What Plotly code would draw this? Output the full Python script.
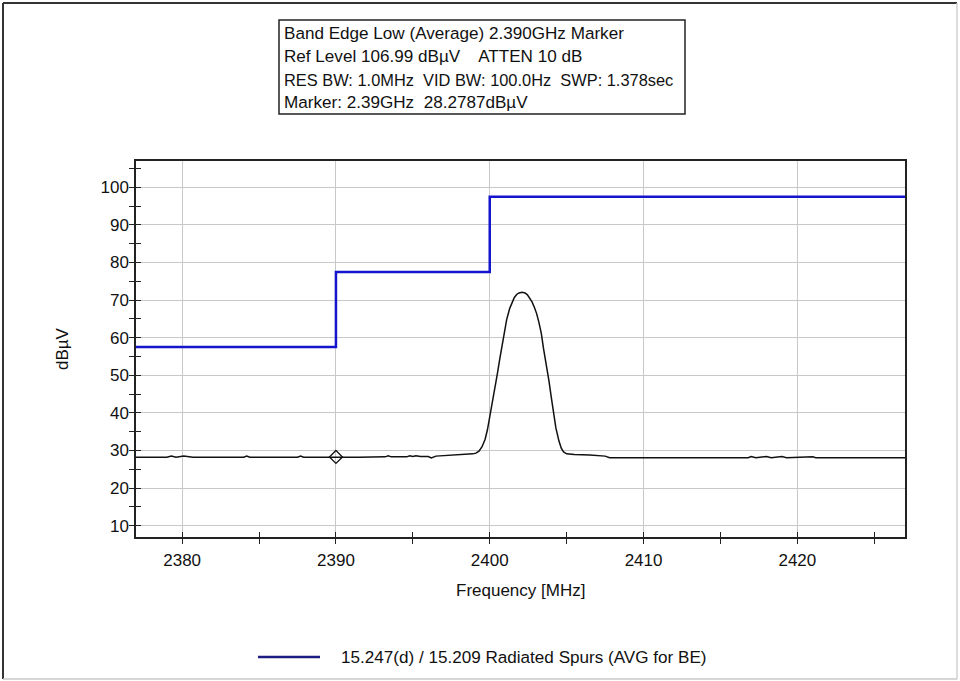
import plotly.graph_objects as go

# ---- data ----
freq_mhz = [2377.0, 2378.0, 2379.0, 2379.3, 2379.6, 2380.1, 2380.4, 2380.7, 2382.0, 2384.0,
            2384.2, 2384.4, 2386.0, 2387.5, 2387.7, 2387.9, 2389.0, 2390.0, 2391.5, 2393.2,
            2393.4, 2393.6, 2394.6, 2394.8, 2395.0, 2395.2, 2395.5, 2396.0, 2396.2, 2396.5,
            2397.0, 2397.6, 2398.0, 2398.5, 2398.9, 2399.1, 2399.3, 2399.5, 2399.7, 2399.85,
            2400.0, 2400.15, 2400.3, 2400.5, 2400.65, 2400.8, 2400.95, 2401.1, 2401.3, 2401.45,
            2401.6, 2401.75, 2401.9, 2402.1, 2402.3, 2402.45, 2402.6, 2402.75, 2402.9, 2403.05,
            2403.2, 2403.35, 2403.5, 2403.7, 2403.85, 2404.0, 2404.15, 2404.3, 2404.5, 2404.65,
            2404.8, 2405.0, 2405.5, 2406.5, 2407.5, 2407.8, 2410.0, 2413.0, 2416.8, 2417.0,
            2417.3, 2418.0, 2418.3, 2419.0, 2419.3, 2421.0, 2421.2, 2424.0, 2427.0]
level_dbuv = [28.2, 28.2, 28.2, 28.5, 28.2, 28.5, 28.4, 28.2, 28.2, 28.2,
              28.5, 28.2, 28.2, 28.2, 28.5, 28.2, 28.2, 28.28, 28.2, 28.3,
              28.6, 28.3, 28.3, 28.6, 28.4, 28.6, 28.4, 28.4, 28.0, 28.5,
              28.6, 28.9, 28.9, 29.0, 29.1, 29.3, 29.8, 31.0, 33.0, 35.5,
              38.8, 42.3, 46.0, 50.5, 54.3, 58.0, 61.6, 64.8, 67.8, 69.5,
              70.7, 71.5, 71.9, 72.1, 71.9, 71.4, 70.6, 69.5, 68.1, 66.4,
              64.0, 61.2, 57.0, 52.5, 48.5, 44.2, 40.0, 36.0, 32.5, 30.6,
              29.6, 29.1, 28.9, 28.8, 28.5, 28.1, 28.1, 28.1, 28.1, 28.4,
              28.1, 28.4, 28.1, 28.4, 28.1, 28.3, 28.1, 28.1, 28.1]

limit_freq = [2377.0, 2390.0, 2400.0, 2427.0]
limit_level = [57.5, 77.5, 97.5, 97.5]

marker_freq = [2390.0]
marker_level = [28.2787]

x_ticks = [2380, 2390, 2400, 2410, 2420]
y_ticks = [10, 20, 30, 40, 50, 60, 70, 80, 90, 100]

info_lines = ["Band Edge Low (Average) 2.390GHz Marker",
              "Ref Level 106.99 dBµV&nbsp;&nbsp;&nbsp; ATTEN 10 dB",
              "RES BW: 1.0MHz&nbsp; VID BW: 100.0Hz&nbsp; SWP: 1.378sec",
              "Marker: 2.39GHz&nbsp; 28.2787dBµV"]
info_sizes = [17.1, 17.1, 16.4, 17.1]
legend_label = "15.247(d) / 15.209 Radiated Spurs (AVG for BE)"

# ---- layout geometry (pixels) ----
W, H = 960, 681
L, R, T, B = 136, 905, 161, 537
FONT = "Liberation Sans, Arial, sans-serif"


def px(xp):
    return (xp - L) / (R - L)


def py(yp):
    return (B - yp) / (B - T)


fig = go.Figure()
fig.add_trace(go.Scatter(x=limit_freq, y=limit_level, mode="lines", line_shape="hv",
                         line=dict(color="#1414cc", width=2.5), showlegend=False,
                         hoverinfo="skip"))
fig.add_trace(go.Scatter(x=freq_mhz, y=level_dbuv, mode="lines",
                         line=dict(color="#111111", width=1.5), showlegend=False))
fig.add_trace(go.Scatter(x=marker_freq, y=marker_level, mode="markers",
                         marker=dict(symbol="diamond-open", size=10, color="#111111",
                                     line=dict(width=1.3)), showlegend=False))
# dummy trace for the inside-tick overlay axes
fig.add_trace(go.Scatter(x=[2377], y=[7], xaxis="x2", yaxis="y2", mode="markers",
                         marker=dict(size=1, opacity=0), showlegend=False, hoverinfo="skip"))

xr = [2377.0, 2427.0]
yr = [6.99, 106.99]
axcommon = dict(linecolor="#222222", linewidth=1.5, tickcolor="#222222", tickwidth=1.2,
                tickfont=dict(family=FONT, size=17, color="#111111"))

fig.update_layout(
    width=W, height=H,
    margin=dict(l=L, r=W - R, t=T, b=H - B, pad=0),
    paper_bgcolor="white", plot_bgcolor="white",
    font=dict(family=FONT, size=17, color="#111111"),
    xaxis=dict(range=xr, tickvals=x_ticks, ticks="outside", ticklen=5,
               showgrid=True, gridcolor="#c8c8c8", gridwidth=1, zeroline=False,
               showline=True, mirror=True, ticklabelstandoff=2,
               minor=dict(dtick=5, tick0=2375, ticks="outside", ticklen=5,
                          tickcolor="#222222", showgrid=False),
               **axcommon),
    yaxis=dict(range=yr, tickvals=y_ticks, ticks="outside", ticklen=5,
               showgrid=True, gridcolor="#c8c8c8", gridwidth=1, zeroline=False,
               showline=True, mirror=True, ticklabelstandoff=-3,
               minor=dict(dtick=5, tick0=0, ticks="outside", ticklen=5,
                          tickcolor="#222222", showgrid=False),
               **axcommon),
    xaxis2=dict(range=xr, overlaying="x", anchor="y2", side="bottom", tickvals=x_ticks,
                ticks="inside", ticklen=5, tickcolor="#222222", tickwidth=1.2,
                showticklabels=False, showgrid=False, zeroline=False, showline=False,
                minor=dict(dtick=5, tick0=2375, ticks="inside", ticklen=5,
                           tickcolor="#222222", showgrid=False)),
    yaxis2=dict(range=yr, overlaying="y", anchor="x2", side="left", tickvals=y_ticks,
                ticks="inside", ticklen=5, tickcolor="#222222", tickwidth=1.2,
                showticklabels=False, showgrid=False, zeroline=False, showline=False,
                minor=dict(dtick=5, tick0=0, ticks="inside", ticklen=5,
                           tickcolor="#222222", showgrid=False)),
    showlegend=False,
)

annotations = []
# axis titles
annotations.append(dict(text="Frequency [MHz]", x=px(520), y=py(590), xref="paper", yref="paper",
                        showarrow=False, xanchor="center", yanchor="middle",
                        font=dict(family=FONT, size=17, color="#111111")))
annotations.append(dict(text="dBµV", x=px(62), y=py(349), xref="paper", yref="paper",
                        showarrow=False, xanchor="center", yanchor="middle", textangle=-90,
                        font=dict(family=FONT, size=17, color="#111111")))
# info box text
info_y = [34, 57, 80, 102]
for line, yy, sz in zip(info_lines, info_y, info_sizes):
    annotations.append(dict(text=line, x=px(282), y=py(yy),
                            xref="paper", yref="paper", showarrow=False,
                            xanchor="left", yanchor="middle",
                            font=dict(family=FONT, size=sz, color="#111111")))
# legend text
annotations.append(dict(text=legend_label, x=px(339), y=py(657), xref="paper", yref="paper",
                        showarrow=False, xanchor="left", yanchor="middle",
                        font=dict(family=FONT, size=17.1, color="#111111")))
fig.update_layout(annotations=annotations)

shapes = []
# info box frame
shapes.append(dict(type="rect", xref="paper", yref="paper", x0=px(279), x1=px(685),
                   y0=py(20), y1=py(114), line=dict(color="#222222", width=1.5)))
# legend line sample
shapes.append(dict(type="line", xref="paper", yref="paper", x0=px(258), x1=px(320),
                   y0=py(657), y1=py(657), line=dict(color="#1c1c80", width=2.5)))
# outer frame of the picture
shapes.append(dict(type="line", xref="paper", yref="paper", x0=px(3), x1=px(3),
                   y0=py(3), y1=py(679), line=dict(color="#333333", width=2)))
shapes.append(dict(type="line", xref="paper", yref="paper", x0=px(3), x1=px(957),
                   y0=py(3), y1=py(3), line=dict(color="#333333", width=2)))
shapes.append(dict(type="line", xref="paper", yref="paper", x0=px(957), x1=px(957),
                   y0=py(3), y1=py(679), line=dict(color="#d0d0d0", width=1.5)))
shapes.append(dict(type="line", xref="paper", yref="paper", x0=px(3), x1=px(957),
                   y0=py(679), y1=py(679), line=dict(color="#c8c8c8", width=1.5)))
fig.update_layout(shapes=shapes)

fig.write_html("out.html", config={"displayModeBar": False},
               post_script="document.body.style.margin='0px';document.body.style.padding='0px';")
